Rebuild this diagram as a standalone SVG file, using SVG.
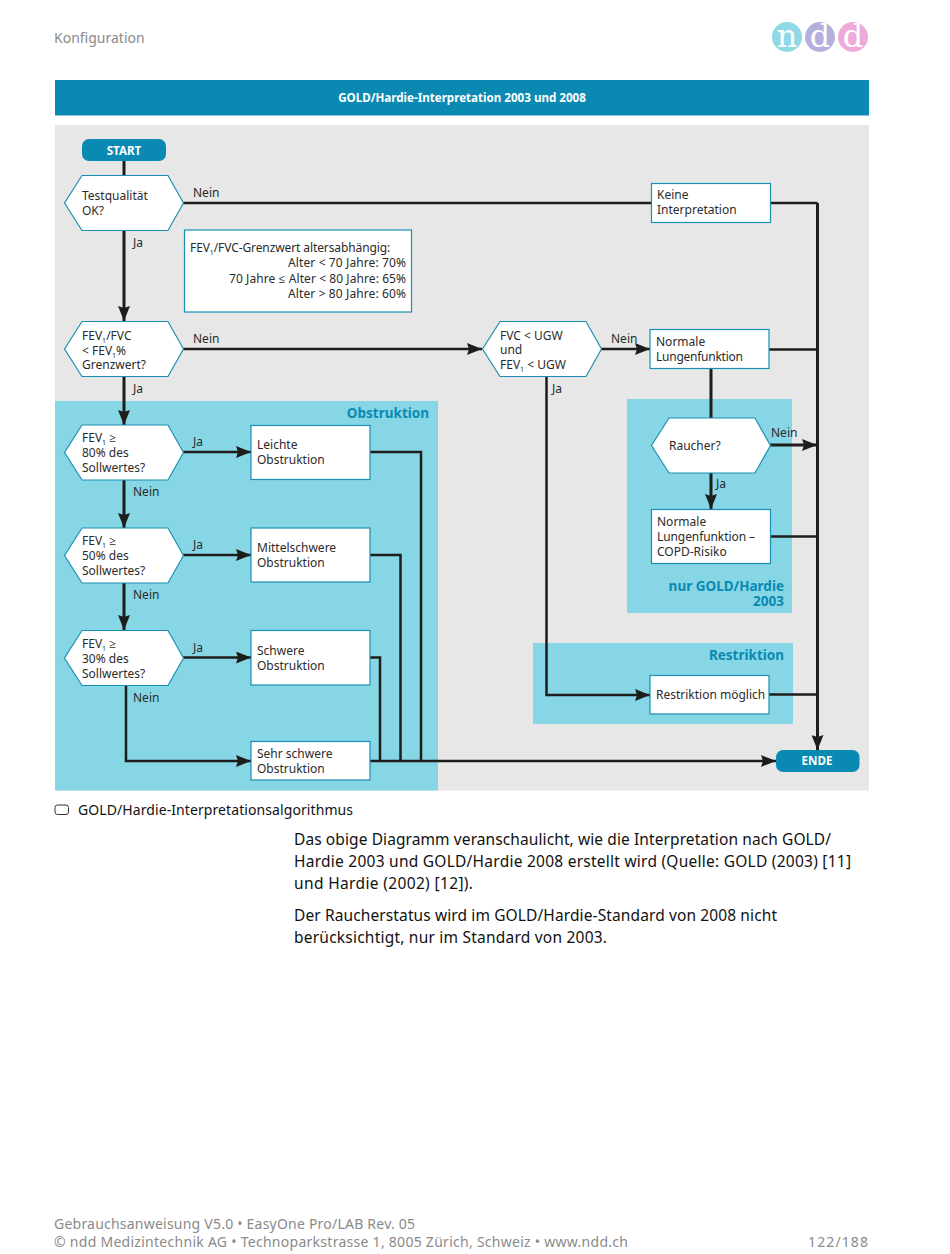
<svg xmlns="http://www.w3.org/2000/svg" width="950" height="1254" viewBox="0 0 950 1254">
<style>
text{font-family:"Noto Sans","Open Sans","Liberation Sans",sans-serif;fill:#2b2b2b}
.n{font-size:12px}
.l{font-size:12px}
.h{font-size:13.500px;font-weight:700;fill:#0a8ab2}
.g{font-size:14px;fill:#8a8a8a}
.b{font-size:15.500px;fill:#111}
.w{font-size:11.600px;font-weight:700;fill:#fff;text-anchor:middle}
.s{font-size:7px}
.box{fill:#fff;stroke:#1b8fb3;stroke-width:1.2}
.term{fill:#0a8ab2}
.c{fill:none;stroke:#1d1d1b;stroke-width:2.5}
.t{fill:none;stroke:#1d1d1b;stroke-width:3}
</style>
<defs>
<marker id="a" markerUnits="userSpaceOnUse" markerWidth="16" markerHeight="12" refX="15" refY="6" orient="auto"><path d="M0 0L15 6L0 12L2 6Z" fill="#1d1d1b"/></marker>
<path id="hex" d="M17.500 0H103.500L119 27.500L103.500 55H17.500L0 27.500Z" class="box"/>
</defs>
<rect width="950" height="1254" fill="#fff"/>
<text class="g" x="54" y="43">Konfiguration</text>
<g id="logo">
<circle cx="787" cy="37" r="15" fill="#8fd9e6"/><circle cx="820" cy="37" r="15" fill="#b3b0dd"/><circle cx="853" cy="37" r="15" fill="#eeaad8"/>
<g style="font-size:32px" text-anchor="middle"><text x="787" y="47" style="font-family:'DejaVu Serif',serif;fill:#fff">n</text><text x="820" y="47" style="font-family:'DejaVu Serif',serif;fill:#fff">d</text><text x="853" y="47" style="font-family:'DejaVu Serif',serif;fill:#fff">d</text></g>
</g>
<rect x="55" y="80" width="814" height="35.500" fill="#0a8ab2"/>
<text class="w" x="462" y="102">GOLD/Hardie-Interpretation 2003 und 2008</text>
<rect x="55" y="125" width="814" height="665.500" fill="#e7e7e7"/>
<rect x="55" y="401" width="383" height="389.500" fill="#86d6e6"/>
<rect x="627" y="399" width="165" height="214" fill="#86d6e6"/>
<rect x="533" y="643" width="260" height="81" fill="#86d6e6"/>
<text class="h" x="429" y="418" text-anchor="end">Obstruktion</text>
<text class="h" x="784" y="591" text-anchor="end">nur GOLD/Hardie</text>
<text class="h" x="784" y="606" text-anchor="end">2003</text>
<text class="h" x="784" y="660" text-anchor="end">Restriktion</text>
<g id="connectors">
<path class="t" d="M124 161V176"/>
<path class="t" d="M124 230V321" marker-end="url(#a)"/>
<path class="t" d="M124 376V425" marker-end="url(#a)"/>
<path class="t" d="M124 480V528" marker-end="url(#a)"/>
<path class="t" d="M124 583V630" marker-end="url(#a)"/>
<path class="c" d="M183 203H651M770 203H817.500"/>
<path class="t" d="M817.500 203V750" marker-end="url(#a)"/>
<path class="c" d="M183 349H482" marker-end="url(#a)"/>
<path class="c" d="M601 349H650" marker-end="url(#a)"/>
<path class="c" d="M769 349.500H817"/>
<path class="t" d="M711 368V418"/>
<path class="t" d="M770 445H817" marker-end="url(#a)"/>
<path class="t" d="M711 473V509" marker-end="url(#a)"/>
<path class="c" d="M770 536.500H817"/>
<path class="c" d="M546.500 376V695H650" marker-end="url(#a)"/>
<path class="c" d="M769 694.500H817"/>
<path class="c" d="M183 452H251" marker-end="url(#a)"/>
<path class="c" d="M183 555H251" marker-end="url(#a)"/>
<path class="c" d="M183 657.500H251" marker-end="url(#a)"/>
<path class="c" d="M126 685V761H251" marker-end="url(#a)"/>
<path class="c" d="M370 452H421V761"/>
<path class="c" d="M370 555H400.500V761"/>
<path class="c" d="M370 657.500H380V761"/>
<path class="c" d="M370 761H776" marker-end="url(#a)"/>
</g>
<g class="labels">
<text class="l" x="193" y="197">Nein</text><text class="l" x="133" y="247">Ja</text>
<text class="l" x="193" y="343">Nein</text><text class="l" x="133" y="393">Ja</text>
<text class="l" x="611" y="343">Nein</text><text class="l" x="552" y="393">Ja</text>
<text class="l" x="771" y="437">Nein</text><text class="l" x="716" y="488">Ja</text>
<text class="l" x="193" y="446">Ja</text><text class="l" x="133" y="496">Nein</text>
<text class="l" x="193" y="549">Ja</text><text class="l" x="133" y="599">Nein</text>
<text class="l" x="193" y="652">Ja</text><text class="l" x="133" y="702">Nein</text>
</g>
<g id="start"><rect class="term" x="82" y="139" width="84" height="22" rx="7"/><text class="w" x="124" y="155">START</text></g>
<g id="ende"><rect class="term" x="776" y="750" width="83.500" height="22" rx="7"/><text class="w" x="817" y="765">ENDE</text></g>
<g id="testqualitaet"><use href="#hex" x="64.500" y="175.500"/><text class="n"><tspan x="82" y="200">Testqualität</tspan><tspan x="82" y="215">OK?</tspan></text></g>
<g id="note"><rect class="box" x="184.500" y="230" width="227" height="82"/>
<text class="n" x="190" y="252" style="letter-spacing:-.1px">FEV<tspan class="s" dy="3">1</tspan><tspan dy="-3">/FVC-Grenzwert altersabhängig:</tspan></text>
<text class="n" x="288" y="267" textLength="118">Alter &lt; 70 Jahre: 70%</text>
<text class="n" x="229" y="283" textLength="177">70 Jahre ≤ Alter &lt; 80 Jahre: 65%</text>
<text class="n" x="288" y="298" textLength="118">Alter &gt; 80 Jahre: 60%</text></g>
<g id="fev-fvc"><use href="#hex" x="64.500" y="321.500"/><text class="n" x="82" y="340">FEV<tspan class="s" dy="3">1</tspan><tspan dy="-3">/FVC</tspan></text><text class="n" x="82" y="355">&lt; FEV<tspan class="s" dy="3">1</tspan><tspan dy="-3">%</tspan></text><text class="n" x="82" y="369">Grenzwert?</text></g>
<g id="fev80"><use href="#hex" x="64.500" y="425"/><text class="n" x="82" y="442">FEV<tspan class="s" dy="3">1</tspan><tspan dy="-3"> ≥</tspan></text><text class="n" x="82" y="457">80% des</text><text class="n" x="82" y="472">Sollwertes?</text></g>
<g id="fev50"><use href="#hex" x="64.500" y="528"/><text class="n" x="82" y="545">FEV<tspan class="s" dy="3">1</tspan><tspan dy="-3"> ≥</tspan></text><text class="n" x="82" y="560">50% des</text><text class="n" x="82" y="575">Sollwertes?</text></g>
<g id="fev30"><use href="#hex" x="64.500" y="630.500"/><text class="n" x="82" y="648">FEV<tspan class="s" dy="3">1</tspan><tspan dy="-3"> ≥</tspan></text><text class="n" x="82" y="663">30% des</text><text class="n" x="82" y="678">Sollwertes?</text></g>
<g id="fvc-ugw"><use href="#hex" x="482.500" y="321.500"/><text class="n" x="500" y="340">FVC &lt; UGW</text><text class="n" x="500" y="354">und</text><text class="n" x="500" y="369">FEV<tspan class="s" dy="3">1</tspan><tspan dy="-3"> &lt; UGW</tspan></text></g>
<g id="raucher"><use href="#hex" x="651.500" y="418"/><text class="n" x="669" y="450">Raucher?</text></g>
<g id="keine"><rect class="box" x="651.500" y="183.500" width="119" height="39"/><text class="n"><tspan x="657" y="199">Keine</tspan><tspan x="657" y="214">Interpretation</tspan></text></g>
<g id="normal"><rect class="box" x="650" y="329.500" width="119" height="39"/><text class="n"><tspan x="656" y="346">Normale</tspan><tspan x="656" y="361" textLength="87">Lungenfunktion</tspan></text></g>
<g id="copd"><rect class="box" x="651.500" y="509.500" width="119" height="54"/><text class="n"><tspan x="657" y="526">Normale</tspan><tspan x="657" y="541" textLength="98">Lungenfunktion –</tspan><tspan x="657" y="556">COPD-Risiko</tspan></text></g>
<g id="restr"><rect class="box" x="650" y="675.500" width="119" height="38.500"/><text class="n" x="656" y="699">Restriktion möglich</text></g>
<g id="leicht"><rect class="box" x="251" y="425.500" width="119" height="54"/><text class="n"><tspan x="257" y="449">Leichte</tspan><tspan x="257" y="464">Obstruktion</tspan></text></g>
<g id="mittel"><rect class="box" x="251" y="528" width="119" height="54"/><text class="n"><tspan x="257" y="552">Mittelschwere</tspan><tspan x="257" y="567">Obstruktion</tspan></text></g>
<g id="schwer"><rect class="box" x="251" y="630.500" width="119" height="54.500"/><text class="n"><tspan x="257" y="655">Schwere</tspan><tspan x="257" y="670">Obstruktion</tspan></text></g>
<g id="sehr"><rect class="box" x="251" y="741.500" width="119" height="38.500"/><text class="n"><tspan x="257" y="758">Sehr schwere</tspan><tspan x="257" y="773">Obstruktion</tspan></text></g>
<rect x="55" y="805" width="13.500" height="9.500" rx="2.500" fill="#fff" stroke="#333" stroke-width="1"/>
<text x="78" y="815" textLength="275" style="font-size:14px;fill:#111">GOLD/Hardie-Interpretationsalgorithmus</text>
<text class="b" x="294" y="845" textLength="537">Das obige Diagramm veranschaulicht, wie die Interpretation nach GOLD/</text>
<text class="b" x="294" y="867" textLength="557">Hardie 2003 und GOLD/Hardie 2008 erstellt wird (Quelle: GOLD (2003) [11]</text>
<text class="b" x="294" y="889" textLength="179">und Hardie (2002) [12]).</text>
<text class="b" x="294" y="921" textLength="483">Der Raucherstatus wird im GOLD/Hardie-Standard von 2008 nicht</text>
<text class="b" x="294" y="943" textLength="313">berücksichtigt, nur im Standard von 2003.</text>
<text class="g" x="54" y="1229" textLength="361">Gebrauchsanweisung V5.0 • EasyOne Pro/LAB Rev. 05</text>
<text class="g" x="54" y="1247" textLength="574">© ndd Medizintechnik AG • Technoparkstrasse 1, 8005 Zürich, Schweiz • www.ndd.ch</text>
<text class="g" x="808" y="1247" textLength="60">122/188</text>
</svg>
